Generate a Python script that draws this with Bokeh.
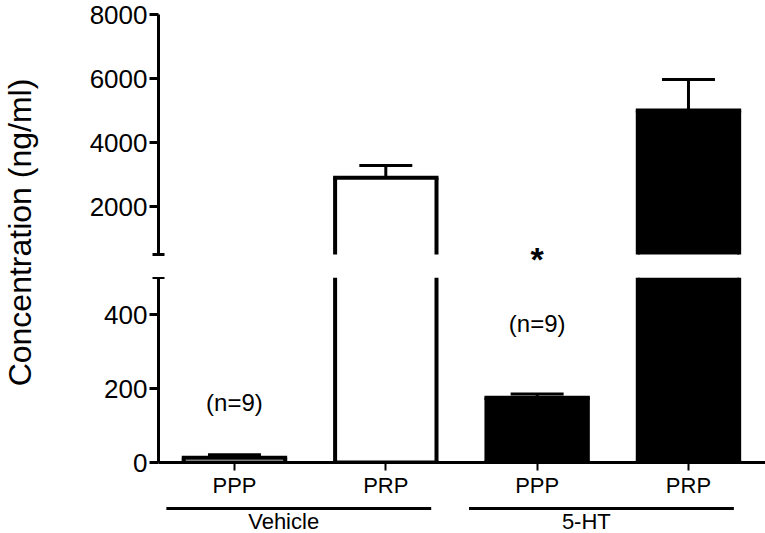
import numpy as np
from bokeh.plotting import figure
from bokeh.models import (ColumnDataSource, Range1d, FixedTicker, LinearAxis,
                          Label)
from bokeh.layouts import row, column
from bokeh.embed import file_html
from bokeh.resources import INLINE
from bokeh.core.properties import value

# ---------------- data ----------------
categories = ["PPP", "PRP", "PPP", "PRP"]
groups = ["Vehicle", "Vehicle", "5-HT", "5-HT"]
group_names = ["Vehicle", "5-HT"]
means = [13, 2900, 175, 5000]
sems = [8, 380, 10, 970]
n_text = ["(n=9)", "(n=9)"]
n_cat_index = [0, 2]
n_text_y = [161, 376]
star_cat_index = [2]
star_y = [344]
lower_ticks = [0, 200, 400]
upper_ticks = [2000, 4000, 6000, 8000]
break_value = 500
upper_top = 8000
y_label = "Concentration (ng/ml)"

# ---------------- style ----------------
FONT = "Liberation Sans"
group_fill = {"Vehicle": "white", "5-HT": "black"}
BAR_W = 0.67
CAP_W = 0.35
W_MAIN = 725
BORDER_L = 118

xs = list(range(len(categories)))
X_RANGE = Range1d(-0.502, 3.509)


def base_fig(height, y_range, mbt=0, mbb=0):
    p = figure(width=W_MAIN, height=height, x_range=X_RANGE, y_range=y_range,
               output_backend="svg", toolbar_location=None, tools="",
               x_axis_location=None, y_axis_location=None,
               min_border_left=BORDER_L, min_border_right=0,
               min_border_top=mbt, min_border_bottom=mbb)
    p.outline_line_color = None
    p.background_fill_color = "white"
    p.border_fill_color = "white"
    p.xgrid.visible = False
    p.ygrid.visible = False
    return p


def draw_segment(p, lo_v, hi_v):
    """Draw the part of every bar / error bar that falls in [lo_v, hi_v]."""
    fx, fb, ft, fc = [], [], [], []
    sx0, sy0, sx1, sy1 = [], [], [], []   # vertical bar edges
    hx0, hy, hx1 = [], [], []             # horizontal bar edges
    for x, m, g in zip(xs, means, groups):
        if m <= lo_v:
            continue
        t = m if hi_v is None else min(m, hi_v)
        fx.append(x); fb.append(lo_v); ft.append(t); fc.append(group_fill[g])
        xl, xr = x - BAR_W / 2, x + BAR_W / 2
        sx0 += [xl, xr]; sx1 += [xl, xr]; sy0 += [lo_v, lo_v]; sy1 += [t, t]
        if hi_v is None or m <= hi_v:
            hx0.append(xl); hx1.append(xr); hy.append(t)
        if lo_v == 0:
            hx0.append(xl); hx1.append(xr); hy.append(0)
    p.vbar(x=fx, bottom=fb, top=ft, width=BAR_W, fill_color=fc, line_color=None)
    p.segment(x0=sx0, y0=sy0, x1=sx1, y1=sy1, line_color="black",
              line_width=4, line_cap="butt")
    p.segment(x0=hx0, y0=hy, x1=hx1, y1=hy, line_color="black",
              line_width=4, line_cap="square")

    ex, e0, e1 = [], [], []
    for x, m, s in zip(xs, means, sems):
        u = m + s
        if u > lo_v and (hi_v is None or u <= hi_v):
            ex.append(x); e0.append(m); e1.append(u)
    p.segment(x0=ex, y0=e0, x1=ex, y1=e1, line_color="black", line_width=3)
    p.segment(x0=[x - CAP_W / 2 for x in ex], y0=e1,
              x1=[x + CAP_W / 2 for x in ex], y1=e1,
              line_color="black", line_width=3)


def style_yaxis(ax):
    ax.axis_line_width = 3
    ax.major_tick_line_width = 3
    ax.minor_tick_line_width = 3
    ax.major_tick_in = 0
    ax.major_tick_out = 9
    ax.minor_tick_in = 6
    ax.minor_tick_out = 6
    ax.major_label_standoff = 2
    ax.major_label_text_font = FONT
    ax.major_label_text_font_size = "26px"
    ax.major_label_text_color = "black"


# ---------------- upper segment ----------------
up = base_fig(277, Range1d(-218.75, 8437.5))
draw_segment(up, break_value, None)
yax_u = LinearAxis(ticker=FixedTicker(ticks=upper_ticks, minor_ticks=[break_value]),
                   bounds=(break_value, upper_top))
style_yaxis(yax_u)
up.add_layout(yax_u, "left")
up.text(x=star_cat_index, y=star_y, text=["*"], text_align="center",
        text_baseline="middle", text_font=value(FONT), text_font_size="34px",
        text_font_style="bold", text_color="black")

# ---------------- lower segment ----------------
lo = base_fig(223, Range1d(0, break_value), mbb=37)
draw_segment(lo, 0, break_value)
yax_l = LinearAxis(ticker=FixedTicker(ticks=lower_ticks, minor_ticks=[break_value]),
                   bounds=(0, break_value))
style_yaxis(yax_l)
lo.add_layout(yax_l, "left")

xax = LinearAxis(ticker=FixedTicker(ticks=xs, minor_ticks=[]))
xax.major_label_overrides = {x: c for x, c in zip(xs, categories)}
xax.axis_line_width = 3
xax.major_tick_line_width = 2
xax.major_tick_in = 0
xax.major_tick_out = 8
xax.minor_tick_in = 0
xax.minor_tick_out = 0
xax.major_label_standoff = 2
xax.major_label_text_font = FONT
xax.major_label_text_font_size = "22px"
xax.major_label_text_color = "black"
lo.add_layout(xax, "below")

n_src = ColumnDataSource(dict(x=n_cat_index, y=n_text_y, t=n_text))
lo.text(x="x", y="y", text="t", source=n_src, text_align="center",
        text_baseline="middle", text_font=value(FONT), text_font_size="24px",
        text_color="black")

# ---------------- group brackets ----------------
gp = base_fig(33, Range1d(0, 1))
gx0, gx1, gtx = [], [], []
for g in group_names:
    idx = [i for i, gg in zip(xs, groups) if gg == g]
    a, b = min(idx) - 0.45, max(idx) + 0.30
    gx0.append(a)
    gx1.append(b)
    gtx.append((a + b) / 2 - 0.1)
gsrc = ColumnDataSource(dict(x0=gx0, x1=gx1, tx=gtx, name=group_names))
gp.segment(x0="x0", y0=0.758, x1="x1", y1=0.758, source=gsrc,
           line_color="black", line_width=3)
gp.text(x="tx", y=0.35, text="name", source=gsrc, text_align="center",
        text_baseline="middle", text_font=value(FONT),
        text_font_size="22px", text_color="black")

# ---------------- y label ----------------
yl = figure(width=40, height=533, x_range=Range1d(0, 1), y_range=Range1d(0, 1),
            output_backend="svg", toolbar_location=None, tools="",
            x_axis_location=None, y_axis_location=None,
            min_border_left=0, min_border_right=0, min_border_top=0,
            min_border_bottom=0)
yl.outline_line_color = None
yl.xgrid.visible = False
yl.ygrid.visible = False
yl.add_layout(Label(x=19, y=301, x_units="screen", y_units="screen",
                    text=y_label, angle=np.pi / 2, text_align="center",
                    text_baseline="middle", text_font=FONT,
                    text_font_size="32px", text_color="black"))

layout = row(yl, column(up, lo, gp, spacing=0), spacing=0)

open("out.html", "w").write(file_html(layout, INLINE))
